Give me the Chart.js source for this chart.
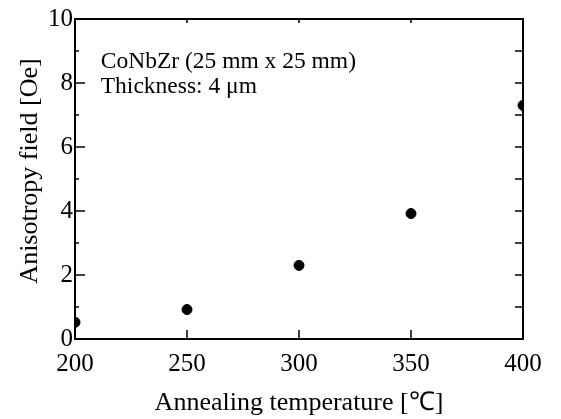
<!DOCTYPE html>
<html>
<head>
<meta charset="utf-8">
<script src="https://cdn.jsdelivr.net/npm/chart.js@4/dist/chart.umd.min.js"></script>
<style>
html,body{margin:0;padding:0;background:#fff;}
canvas{display:block;}
</style>
</head>
<body>
<canvas id="c" width="561" height="419"></canvas>
<script>
// Data
const temperatures = [200, 250, 300, 350, 400];
const anisotropyField = [0.52, 0.92, 2.3, 3.92, 7.3];
const xTicks = [200, 250, 300, 350, 400];
const yTicks = [0, 2, 4, 6, 8, 10];
const yMinorTicks = [1, 3, 5, 7, 9];
const annotationLines = ['CoNbZr (25 mm x 25 mm)', 'Thickness: 4 \u03bcm'];
const xTitle = 'Annealing temperature [\u2103]';
const yTitle = 'Anisotropy field [Oe]';

const FONT = "'Liberation Serif', 'Times New Roman', serif";

const frameTicks = {
  id: 'frameTicks',
  afterDraw(chart) {
    const ctx = chart.ctx;
    const a = chart.chartArea;
    const xs = chart.scales.x, ys = chart.scales.y;
    ctx.save();
    ctx.strokeStyle = '#000';
    ctx.lineWidth = 2;
    ctx.strokeRect(a.left, a.top, a.right - a.left, a.bottom - a.top);
    ctx.lineWidth = 1.5;
    ctx.beginPath();
    yTicks.concat(yMinorTicks).forEach(v => {
      const y = ys.getPixelForValue(v);
      const major = yTicks.includes(v);
      ctx.moveTo(a.left, y); ctx.lineTo(a.left + (major ? 10 : 4), y);
      ctx.moveTo(a.right, y); ctx.lineTo(a.right - 8, y);
    });
    xTicks.forEach(v => {
      const x = xs.getPixelForValue(v);
      ctx.moveTo(x, a.bottom); ctx.lineTo(x, a.bottom - 9);
      ctx.moveTo(x, a.top); ctx.lineTo(x, a.top + 4);
    });
    ctx.stroke();
    ctx.fillStyle = '#000';
    // annotation
    ctx.font = '23.5px ' + FONT;
    ctx.textBaseline = 'alphabetic';
    ctx.textAlign = 'left';
    const tx = xs.getPixelForValue(211.5);
    ctx.fillText(annotationLines[0], tx, ys.getPixelForValue(8.47));
    ctx.fillText(annotationLines[1], tx, ys.getPixelForValue(7.7));
    // y axis title
    ctx.font = '26px ' + FONT;
    ctx.textAlign = 'center';
    ctx.textBaseline = 'alphabetic';
    ctx.translate(37, ys.getPixelForValue(5.25));
    ctx.rotate(-Math.PI / 2);
    ctx.fillText(yTitle, 0, 0);
    ctx.restore();
  }
};

new Chart(document.getElementById('c'), {
  type: 'scatter',
  data: {
    datasets: [{
      data: temperatures.map((t, i) => ({x: t, y: anisotropyField[i]})),
      backgroundColor: '#000',
      borderColor: '#000',
      pointRadius: 5,
      pointHoverRadius: 5
    }]
  },
  options: {
    responsive: false,
    animation: false,
    devicePixelRatio: 1,
    layout: {padding: {top: 19, right: 38, left: 0, bottom: 0}},
    plugins: {legend: {display: false}, tooltip: {enabled: false}},
    scales: {
      x: {
        type: 'linear', min: 200, max: 400,
        afterBuildTicks: s => { s.ticks = xTicks.map(v => ({value: v})); },
        afterFit: s => { s.height = 80; },
        grid: {display: false, drawTicks: false},
        border: {display: false},
        ticks: {color: '#000', padding: 10, font: {family: FONT, size: 25}, maxRotation: 0},
        title: {display: true, text: xTitle, color: '#000', font: {family: FONT, size: 26}, padding: {top: 0, bottom: 0}}
      },
      y: {
        type: 'linear', min: 0, max: 10,
        afterBuildTicks: s => { s.ticks = yTicks.map(v => ({value: v})); },
        afterFit: s => { s.width = 75; },
        grid: {display: false, drawTicks: false},
        border: {display: false},
        ticks: {color: '#000', padding: 2, font: {family: FONT, size: 25}},
        title: {display: false}
      }
    }
  },
  plugins: [frameTicks]
});
</script>
</body>
</html>
